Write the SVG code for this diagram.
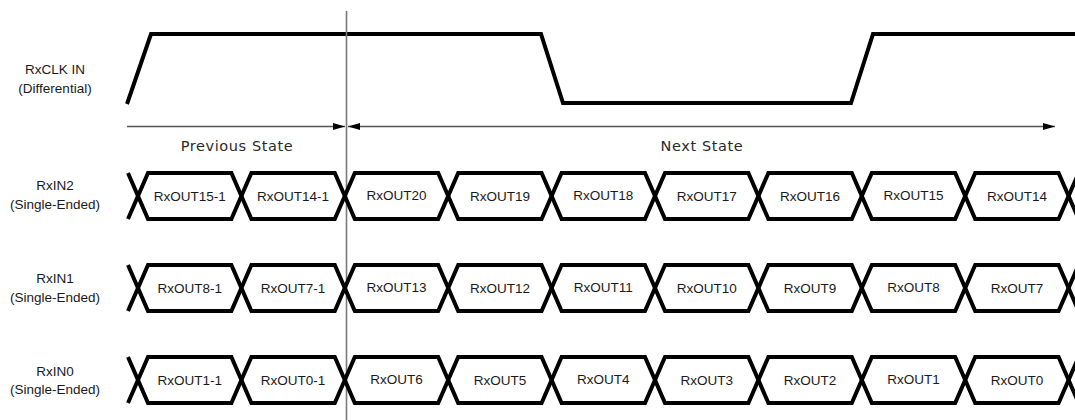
<svg xmlns="http://www.w3.org/2000/svg" xmlns:xlink="http://www.w3.org/1999/xlink" width="1075" height="420" viewBox="0 0 1075 420">
<style>
.bg{fill:#ffffff}
.lbl{font-family:"Liberation Sans",Arial,sans-serif;font-size:13.5px;fill:#1a1a1a;text-anchor:middle}
.cell{font-family:"Liberation Sans",Arial,sans-serif;font-size:13.5px;fill:#1a1a1a;text-anchor:middle}
.state{font-family:"DejaVu Sans",sans-serif;font-size:14.5px;font-weight:400;letter-spacing:0.6px;fill:#2a2a2a;text-anchor:middle}
.wave{fill:none;stroke:#000000;stroke-width:4;stroke-linejoin:miter}
.dim{fill:none;stroke:#555555;stroke-width:1.3}
.marker{stroke:#7a7a7a;stroke-width:1.6}
</style>
<defs>
<path id="traceA" class="wave" d="M128,23 L148,-23 L231.4,-23 L251.4,23 L334.8,23 L354.8,-23 L438.2,-23 L458.2,23 L541.6,23 L561.6,-23 L645,-23 L665,23 L748.4,23 L768.4,-23 L851.8,-23 L871.8,23 L955.2,23 L975.2,-23 L1058.6,-23 L1078.6,23"/>
<path id="traceB" class="wave" d="M128,-23 L148,23 L231.4,23 L251.4,-23 L334.8,-23 L354.8,23 L438.2,23 L458.2,-23 L541.6,-23 L561.6,23 L645,23 L665,-23 L748.4,-23 L768.4,23 L851.8,23 L871.8,-23 L955.2,-23 L975.2,23 L1058.6,23 L1078.6,-23"/>
<marker id="ah" viewBox="0 0 12 7" refX="12" refY="3.5" markerWidth="12" markerHeight="7" markerUnits="userSpaceOnUse" orient="auto-start-reverse">
<path d="M0,0 L12,3.5 L0,7 Z" fill="#000000"/>
</marker>
</defs>
<rect class="bg" x="0" y="0" width="1075" height="420"/>

<g id="rxclk">
<text class="lbl" x="55" y="74">RxCLK IN</text>
<text class="lbl" x="55" y="92.5">(Differential)</text>
<path class="wave" d="M127,104 L151,34 L541,34 L563,103 L851,103 L873,34 L1080,34"/>
</g>

<g id="connectors">
<line class="dim" x1="127" y1="126.5" x2="345" y2="126.5" marker-end="url(#ah)"/>
<line class="dim" x1="348" y1="126.5" x2="1055" y2="126.5" marker-start="url(#ah)" marker-end="url(#ah)"/>
<line class="marker" x1="346.5" y1="11" x2="346.5" y2="420"/>
</g>

<g id="previous-state">
<text class="state" x="237" y="150.5">Previous State</text>
</g>
<g id="next-state">
<text class="state" x="702" y="151">Next State</text>
</g>

<g id="rxin2">
<text class="lbl" x="55" y="190">RxIN2</text>
<text class="lbl" x="55" y="208.5">(Single-Ended)</text>
<use xlink:href="#traceA" href="#traceA" transform="translate(0,196)"/>
<use xlink:href="#traceB" href="#traceB" transform="translate(0,196)"/>
<text class="cell" x="189.7" y="201">RxOUT15-1</text>
<text class="cell" x="293.1" y="201">RxOUT14-1</text>
<text class="cell" x="396.5" y="199.5">RxOUT20</text>
<text class="cell" x="499.9" y="201">RxOUT19</text>
<text class="cell" x="603.3" y="199.5">RxOUT18</text>
<text class="cell" x="706.7" y="201">RxOUT17</text>
<text class="cell" x="810.1" y="201">RxOUT16</text>
<text class="cell" x="913.5" y="199.5">RxOUT15</text>
<text class="cell" x="1016.9" y="201">RxOUT14</text>
</g>

<g id="rxin1">
<text class="lbl" x="55" y="283">RxIN1</text>
<text class="lbl" x="55" y="301.5">(Single-Ended)</text>
<use xlink:href="#traceA" href="#traceA" transform="translate(0,288)"/>
<use xlink:href="#traceB" href="#traceB" transform="translate(0,288)"/>
<text class="cell" x="189.7" y="293">RxOUT8-1</text>
<text class="cell" x="293.1" y="293">RxOUT7-1</text>
<text class="cell" x="396.5" y="291.5">RxOUT13</text>
<text class="cell" x="499.9" y="293">RxOUT12</text>
<text class="cell" x="603.3" y="291.5">RxOUT11</text>
<text class="cell" x="706.7" y="293">RxOUT10</text>
<text class="cell" x="810.1" y="293">RxOUT9</text>
<text class="cell" x="913.5" y="291.5">RxOUT8</text>
<text class="cell" x="1016.9" y="293">RxOUT7</text>
</g>

<g id="rxin0">
<text class="lbl" x="55" y="375.5">RxIN0</text>
<text class="lbl" x="55" y="394">(Single-Ended)</text>
<use xlink:href="#traceA" href="#traceA" transform="translate(0,380)"/>
<use xlink:href="#traceB" href="#traceB" transform="translate(0,380)"/>
<text class="cell" x="189.7" y="385">RxOUT1-1</text>
<text class="cell" x="293.1" y="385">RxOUT0-1</text>
<text class="cell" x="396.5" y="383.5">RxOUT6</text>
<text class="cell" x="499.9" y="385">RxOUT5</text>
<text class="cell" x="603.3" y="383.5">RxOUT4</text>
<text class="cell" x="706.7" y="385">RxOUT3</text>
<text class="cell" x="810.1" y="385">RxOUT2</text>
<text class="cell" x="913.5" y="383.5">RxOUT1</text>
<text class="cell" x="1016.9" y="385">RxOUT0</text>
</g>
</svg>
